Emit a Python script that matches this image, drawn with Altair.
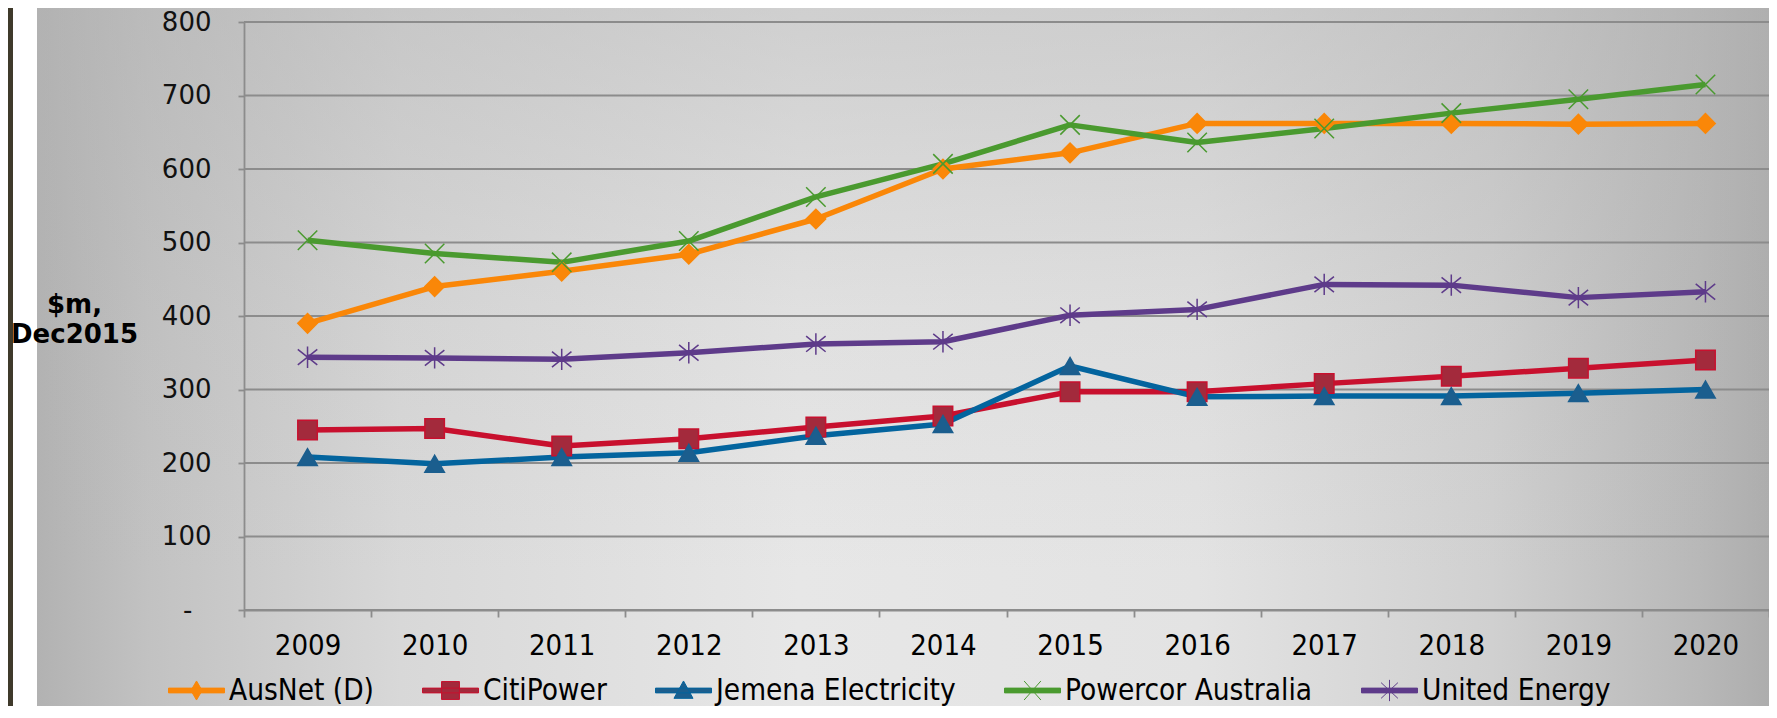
import altair as alt
import pandas as pd

# ---------------- data ----------------
years = [str(y) for y in range(2009, 2021)]
series = ["AusNet (D)", "CitiPower", "Jemena Electricity", "Powercor Australia", "United Energy"]
ausnet = [390, 440, 461, 484, 532, 600, 622, 662, 662, 662, 661, 662]
citipower = [245, 247, 223, 233, 249, 264, 297, 297, 308, 318, 329, 340]
jemena = [208, 199, 208, 214, 237, 253, 332, 290, 291, 291, 295, 300]
powercor = [503, 485, 473, 502, 562, 607, 660, 636, 655, 676, 695, 715]
united = [344, 343, 341, 350, 362, 365, 401, 409, 443, 442, 425, 433]
y_ticks = [0, 100, 200, 300, 400, 500, 600, 700, 800]

values_by_series = [ausnet, citipower, jemena, powercor, united]
rows = []
for s, vals in zip(series, values_by_series):
    for yr, v in zip(years, vals):
        rows.append({"year": yr, "series": s, "value": v})
df = pd.DataFrame(rows)
grid_df = pd.DataFrame({"value": y_ticks})
one = pd.DataFrame({"a": [0]})

# ---------------- styles ----------------
W, H = 1525, 588
PAD = {"left": 236, "top": 14, "right": 0, "bottom": 96}
COND = "DejaVu Sans Condensed, Liberation Sans Narrow, DejaVu Sans"
GRID = "#8c8c8c"

line_colors = ["#FA8708", "#C8102E", "#03649E", "#4A9A2F", "#5E3B8A"]
fill_colors = ["#FA8708", "#A32A3C", "#1B5E8E", "#4A9A2F", "#5E3B8A"]
mstroke_colors = ["#FA8708", "#C8102E", "#1B5E8E", "#4A9A2F", "#5E3B8A"]

X_PATH = "M-1,-1L1,1M-1,1L1,-1"
AST_PATH = "M-1,-0.8L1,0.8M-1,0.8L1,-0.8M0,-1.1L0,1.1"
marker_shapes = ["diamond", "square", "triangle-up", X_PATH, AST_PATH]

LINE = "M-1,-0.085H1V0.085H-1Z"
legend_shapes = [
    LINE + "M-0.2,0L0,-0.34L0.2,0L0,0.34Z",
    LINE + "M-0.32,-0.32H0.32V0.32H-0.32Z",
    LINE + "M0,-0.34L0.34,0.28H-0.34Z",
    LINE + "M-0.3,-0.34L0.3,0.34M-0.3,0.34L0.3,-0.34",
    LINE + "M-0.3,-0.28L0.3,0.28M-0.3,0.28L0.3,-0.28M0,-0.38L0,0.38",
]

x_enc = alt.X(
    "year:O",
    sort=years,
    scale=alt.Scale(type="band", domain=years, paddingInner=0, paddingOuter=0),
    axis=alt.Axis(
        title=None, labelAngle=0, labelFont=COND, labelFontSize=29, labelColor="#000000",
        tickBand="extent", tickSize=7, tickColor=GRID, tickWidth=1.8,
        domainColor=GRID, domainWidth=1.8, labelPadding=14, grid=False, zindex=1,
    ),
)
y_enc = alt.Y(
    "value:Q",
    scale=alt.Scale(domain=[0, 800], nice=False, zero=True),
    axis=alt.Axis(
        values=y_ticks, labelExpr="datum.value == 0 ? '-' : datum.label",
        labelFont="DejaVu Sans", labelFontSize=26, labelColor="#111111",
        tickSize=6, tickColor=GRID, tickWidth=1.8,
        labelPadding={"condition": {"test": "datum.value == 0", "value": 46}, "value": 27},
        domainColor=GRID, domainWidth=1.8, grid=False, zindex=1,
        title=["$m,", "Dec2015"], titleAngle=0, titleX=-170, titleY=290,
        titleAlign="center", titleBaseline="alphabetic", titleFont="DejaVu Sans",
        titleFontWeight="bold", titleFontSize=26, titleLineHeight=30.5, titleColor="#000000",
    ),
)

# ---------------- background ----------------
h_grad = {
    "gradient": "linear", "x1": 0, "y1": 0, "x2": 1, "y2": 0,
    "stops": [
        {"offset": 0.0, "color": "#b2b2b2"},
        {"offset": 0.065, "color": "#c2c2c2"},
        {"offset": 0.21, "color": "#d8d8d8"},
        {"offset": 0.44, "color": "#e7e7e7"},
        {"offset": 0.67, "color": "#e3e3e3"},
        {"offset": 0.84, "color": "#d0d0d0"},
        {"offset": 0.96, "color": "#b8b8b8"},
        {"offset": 1.0, "color": "#adadad"},
    ],
}
v_grad = {
    "gradient": "linear", "x1": 0, "y1": 0, "x2": 0, "y2": 1,
    "stops": [
        {"offset": 0.0, "color": "rgba(178,178,178,0.45)"},
        {"offset": 0.45, "color": "rgba(178,178,178,0.12)"},
        {"offset": 0.8, "color": "rgba(178,178,178,0)"},
        {"offset": 1.0, "color": "rgba(178,178,178,0)"},
    ],
}
TOP = -PAD["top"] - 8
BOTTOM = H + PAD["bottom"] + 10
bg = alt.Chart(one).mark_rect(fill=h_grad).encode(
    x=alt.value(-207), x2=alt.value(W), y=alt.value(TOP), y2=alt.value(BOTTOM)
)
bg2 = alt.Chart(one).mark_rect(fill=v_grad).encode(
    x=alt.value(-207), x2=alt.value(W), y=alt.value(TOP), y2=alt.value(BOTTOM)
)
strip = alt.Chart(one).mark_rect(fill="#3f3a2b").encode(
    x=alt.value(-236), x2=alt.value(-231), y=alt.value(TOP), y2=alt.value(BOTTOM)
)

grid = alt.Chart(grid_df).mark_rule(color=GRID, strokeWidth=1.8).encode(y=y_enc)

lines = alt.Chart(df).mark_line(strokeWidth=5.5, strokeJoin="round").encode(
    x=x_enc, y=y_enc,
    stroke=alt.Stroke("series:N", scale=alt.Scale(domain=series, range=line_colors), legend=None),
)

points = alt.Chart(df).mark_point(filled=False, size=380, strokeWidth=1.5, opacity=1).encode(
    x=x_enc, y=y_enc,
    fill=alt.Fill("series:N", scale=alt.Scale(domain=series, range=fill_colors), legend=None),
    stroke=alt.Stroke("series:N", scale=alt.Scale(domain=series, range=mstroke_colors), legend=None),
    shape=alt.Shape("series:N", scale=alt.Scale(domain=series, range=marker_shapes), legend=None),
)

leg = alt.Legend(
    orient="none", legendX=-76, legendY=640, direction="horizontal", columns=5,
    columnPadding=46, symbolSize=3136, symbolStrokeWidth=1, symbolOpacity=1,
    labelFont=COND, labelFontSize=29.5, labelColor="#000000", labelOffset=4,
    labelLimit=0, title=None, padding=0, rowPadding=0,
)
legend_layer = alt.Chart(df).mark_point(filled=True, size=3136, opacity=0).encode(
    x=x_enc, y=y_enc,
    fill=alt.Fill("series:N", scale=alt.Scale(domain=series, range=fill_colors), legend=leg),
    stroke=alt.Stroke("series:N", scale=alt.Scale(domain=series, range=line_colors), legend=leg),
    shape=alt.Shape("series:N", scale=alt.Scale(domain=series, range=legend_shapes), legend=leg),
)

chart = (
    alt.layer(bg, bg2, strip, grid, lines, points, legend_layer)
    .resolve_scale(fill="independent", stroke="independent", shape="independent")
    .properties(
        width=W, height=H,
        padding=PAD,
        autosize=alt.AutoSizeParams(type="none"),
    )
    .configure_view(stroke=None)
)

chart.save("out.html", embed_options={"renderer": "svg", "actions": False})
